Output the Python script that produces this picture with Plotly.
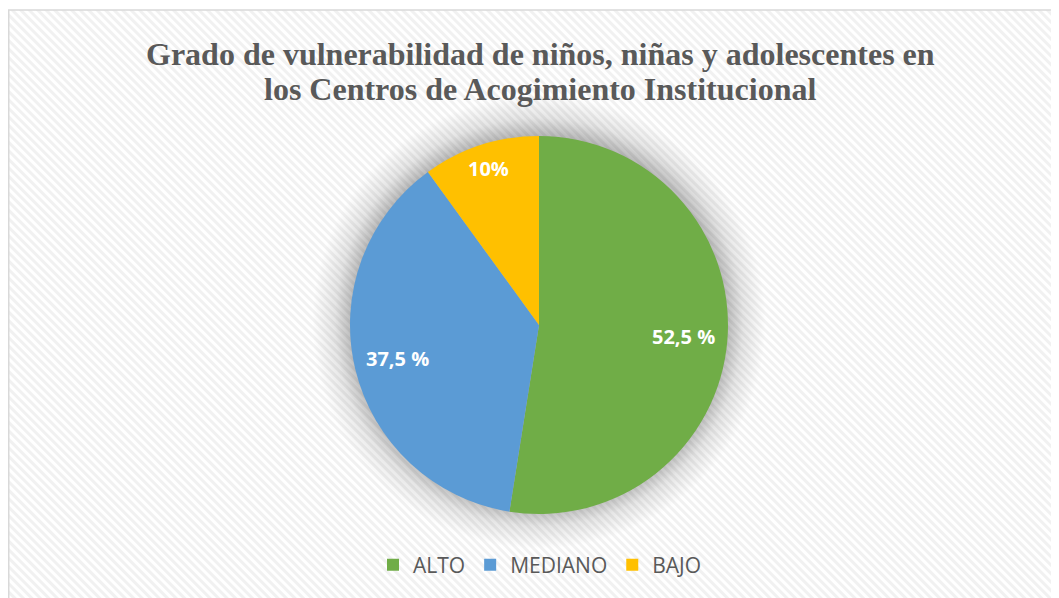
import base64
import math
import plotly.graph_objects as go

# data
categorias = ["ALTO", "MEDIANO", "BAJO"]
porcentajes = [52.5, 37.5, 10]
etiquetas = ["52,5 %", "37,5 %", "10%"]
colores = ["#70AD47", "#5B9BD5", "#FFC000"]

titulo = ["Grado de vulnerabilidad de niños, niñas y adolescentes en",
          "los Centros de Acogimiento Institucional"]

W, H = 1059, 598
OFF = 8  # page body margin: figure is drawn 8px right/down in the browser
cx, cy, r = 539 - OFF, 325 - OFF, 189  # pie centre / radius in figure pixels

dom_x = [(cx - r) / W, (cx + r) / W]
dom_y = [(H - cy - r) / H, (H - cy + r) / H]

# background: excel style diagonal hatch, border and soft shadow under the pie
svg = f"""<svg xmlns='http://www.w3.org/2000/svg' width='{W}' height='{H}'>
<defs>
<pattern id='p' width='6' height='6' patternUnits='userSpaceOnUse' patternTransform='rotate(-45)'>
<rect width='6' height='6' fill='#ffffff'/>
<rect width='3' height='6' fill='#f1f1f1'/>
</pattern>
<radialGradient id='s'>
<stop offset='0.82' stop-color='#000' stop-opacity='0.28'/>
<stop offset='0.9' stop-color='#000' stop-opacity='0.10'/>
<stop offset='1' stop-color='#000' stop-opacity='0'/>
</radialGradient>
</defs>
<rect width='{W}' height='{H}' fill='#ffffff'/>
<rect x='0.75' y='2' width='{W + 10}' height='{H + 10}' fill='url(#p)' stroke='#d9d9d9' stroke-width='1.5'/>
<circle cx='{cx}' cy='{cy - 3}' r='{r * 1.2}' fill='url(#s)'/>
</svg>"""
bg = "data:image/svg+xml;base64," + base64.b64encode(svg.encode()).decode()

fig = go.Figure(go.Pie(
    labels=categorias,
    values=porcentajes,
    textinfo="none",
    marker=dict(colors=colores, line=dict(width=0)),
    sort=False,
    direction="clockwise",
    rotation=0,
    domain=dict(x=dom_x, y=dom_y),
    hoverinfo="label+percent",
))

# data labels, placed along each slice's mid angle (excel "best fit")
radial = [0.765, 0.77, 0.87]
total = sum(porcentajes)
anots = []
acum = 0
for val, txt, f in zip(porcentajes, etiquetas, radial):
    mid = (acum + val / 2) / total * 2 * math.pi
    acum += val
    px_ = cx + math.sin(mid) * f * r
    py_ = cy - math.cos(mid) * f * r
    anots.append(dict(
        text=txt, x=px_ / W, y=1 - py_ / H, xref="paper", yref="paper",
        showarrow=False, xanchor="center", yanchor="middle",
        font=dict(family="Open Sans", size=20, color="white", weight="bold"),
    ))

# title as two lines for tighter line spacing
for linea, ymid in zip(titulo, [46, 81]):
    anots.append(dict(
        text=linea, x=(540 - OFF) / W, y=1 - ymid / H,
        xref="paper", yref="paper", showarrow=False,
        xanchor="center", yanchor="middle",
        font=dict(family="Liberation Serif", size=32, color="#595959",
                  weight="bold"),
    ))

fig.update_layout(
    width=W, height=H,
    margin=dict(l=0, r=0, t=0, b=0),
    paper_bgcolor="white",
    plot_bgcolor="white",
    annotations=anots,
    legend=dict(
        orientation="h",
        x=(540 - OFF) / W, xanchor="center",
        y=1 - (565 - OFF) / H, yanchor="middle",
        font=dict(family="Open Sans", size=21, color="#595959"),
        bgcolor="rgba(0,0,0,0)",
        itemwidth=30,
    ),
    images=[dict(source=bg, xref="paper", yref="paper", x=0, y=1,
                 sizex=1, sizey=1, sizing="stretch", layer="below")],
)

fig.write_html("out.html")
